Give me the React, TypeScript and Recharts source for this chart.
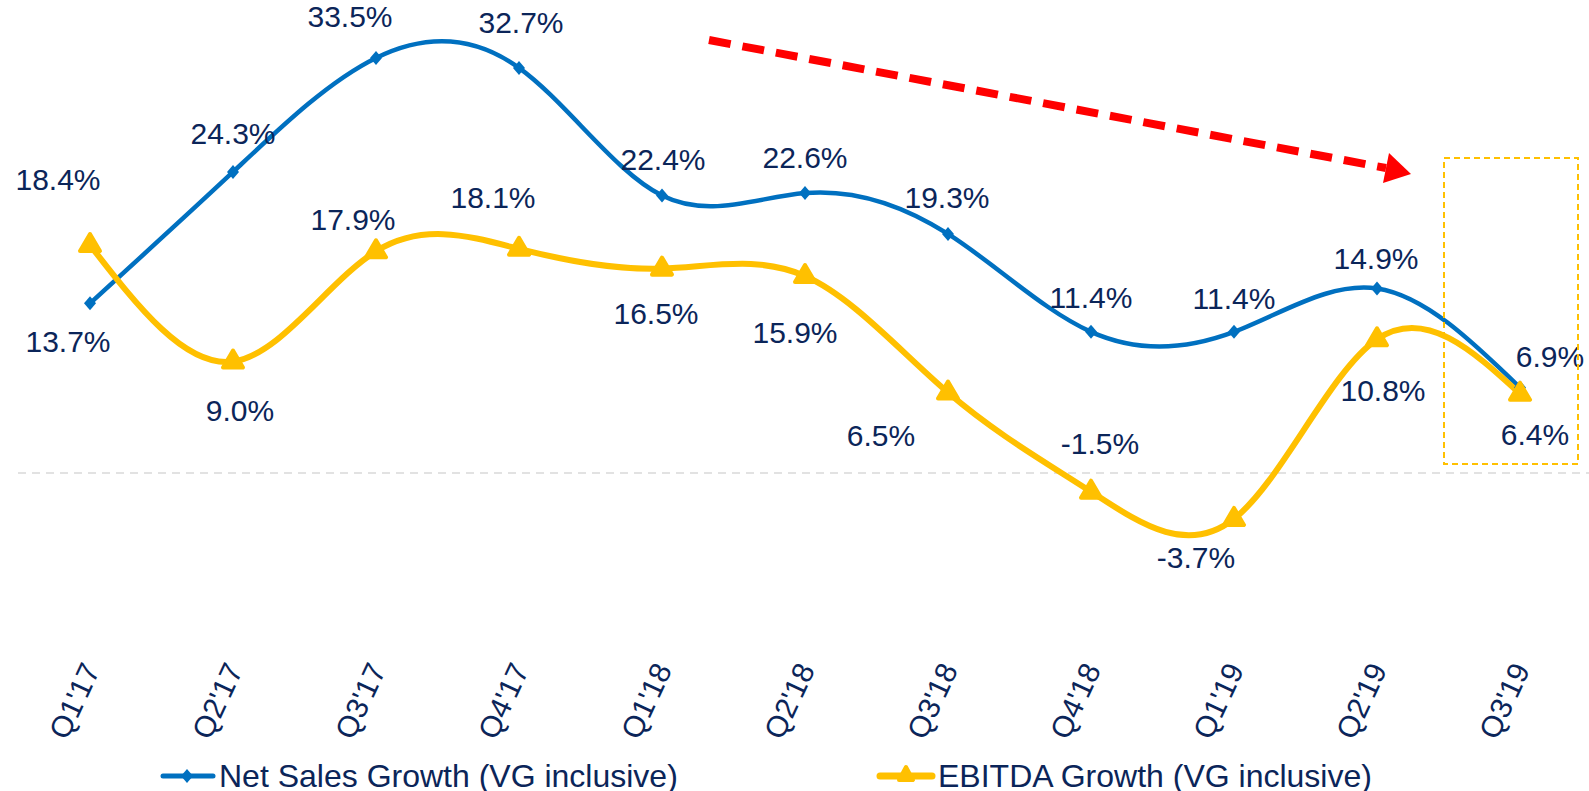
import React from 'react';
import {
  LineChart,
  Line,
  XAxis,
  YAxis,
  Legend,
  LabelList,
  ReferenceLine,
} from 'recharts';

// quarters and growth rates (%)
const quarters = ["Q1'17", "Q2'17", "Q3'17", "Q4'17", "Q1'18", "Q2'18", "Q3'18", "Q4'18", "Q1'19", "Q2'19", "Q3'19"];
const netSalesGrowth = [13.7, 24.3, 33.5, 32.7, 22.4, 22.6, 19.3, 11.4, 11.4, 14.9, 6.9];
const ebitdaGrowth = [18.4, 9.0, 17.9, 18.1, 16.5, 15.9, 6.5, -1.5, -3.7, 10.8, 6.4];

const SERIES_NAMES = ['Net Sales Growth (VG inclusive)', 'EBITDA Growth (VG inclusive)'];

// label offsets relative to each point (dx, dy)
const netLabelOffsets: [number, number][] = [
  [-22, 38], [0, -38], [-26, -41], [2, -45], [1, -36], [0, -36],
  [-1, -36], [0, -34], [0, -33], [-1, -30], [30, -31],
];
const ebitdaLabelOffsets: [number, number][] = [
  [-32, -66], [7, 49], [-23, -32], [-26, -51], [-6, 45], [-10, 56],
  [-67, 43], [9, -48], [-38, 39], [6, 51], [15, 41],
];

const BLUE = '#0070C0';
const YELLOW = '#FFC000';
const TEXT = '#0B2559';
const FONT = '"Liberation Sans", Arial, sans-serif';

const W = 1589;
const H = 791;

const chartData = quarters.map((q, i) => ({
  q,
  net: netSalesGrowth[i],
  ebitda: ebitdaGrowth[i],
}));

const Diamond = (props: any) => {
  const { cx, cy, index } = props;
  if (cx == null || cy == null) return <g key={`d-${index}`} />;
  return (
    <path
      key={`d-${index}`}
      d={`M${cx},${cy - 7} L${cx + 6},${cy} L${cx},${cy + 7} L${cx - 6},${cy} Z`}
      fill={BLUE}
    />
  );
};

const Triangle = (props: any) => {
  const { cx, cy, index } = props;
  if (cx == null || cy == null) return <g key={`t-${index}`} />;
  return (
    <path
      key={`t-${index}`}
      d={`M${cx},${cy - 11} L${cx + 10},${cy + 6} L${cx - 10},${cy + 6} Z`}
      fill={YELLOW}
      stroke={YELLOW}
      strokeWidth={4}
      strokeLinejoin="round"
    />
  );
};

const makeLabel = (offsets: [number, number][]) => (props: any) => {
  const { x, y, value, index } = props;
  const [dx, dy] = offsets[index] ?? [0, -30];
  return (
    <text
      x={x + dx}
      y={y + dy}
      textAnchor="middle"
      dominantBaseline="central"
      fill={TEXT}
      fontSize={30}
      fontFamily={FONT}
    >
      {`${Number(value).toFixed(1)}%`}
    </text>
  );
};

const QuarterTick = (props: any) => {
  const { x, y, payload } = props;
  return (
    <text
      transform={`translate(${x + 1},${y + 68}) rotate(-65)`}
      textAnchor="end"
      dy="0.35em"
      fill={TEXT}
      fontSize={30}
      fontFamily={FONT}
    >
      {payload.value}
    </text>
  );
};

const LegendContent = () => (
  <div style={{ position: 'relative', width: W, height: 36, fontFamily: FONT, fontSize: 32, color: TEXT }}>
    <div style={{ position: 'absolute', left: 160, top: 3, height: 36, display: 'flex', alignItems: 'center' }}>
      <svg width={56} height={20}>
        <line x1={3} y1={10} x2={53} y2={10} stroke={BLUE} strokeWidth={5} strokeLinecap="round" />
        <path d="M27,3 L33,10 L27,17 L21,10 Z" fill={BLUE} />
      </svg>
      <span style={{ marginLeft: 3, whiteSpace: 'nowrap' }}>{SERIES_NAMES[0]}</span>
    </div>
    <div style={{ position: 'absolute', left: 876, top: 3, height: 36, display: 'flex', alignItems: 'center' }}>
      <svg width={60} height={24}>
        <line x1={4} y1={12} x2={56} y2={12} stroke={YELLOW} strokeWidth={7} strokeLinecap="round" />
        <path d="M30,3 L37,16 L23,16 Z" fill={YELLOW} stroke={YELLOW} strokeWidth={4} strokeLinejoin="round" />
      </svg>
      <span style={{ marginLeft: 2, whiteSpace: 'nowrap' }}>{SERIES_NAMES[1]}</span>
    </div>
  </div>
);

export default function App() {
  return (
    <div style={{ position: 'absolute', left: 0, top: 0, width: W, height: H, background: '#fff' }}>
      <LineChart
        width={W}
        height={H}
        data={chartData}
        margin={{ top: 27, right: 0, bottom: 0, left: 18 }}
      >
        <XAxis
          dataKey="q"
          interval={0}
          axisLine={false}
          tickLine={false}
          tickSize={0}
          tickMargin={0}
          height={158}
          padding={{ left: 72, right: 69 }}
          tick={<QuarterTick />}
        />
        <YAxis hide domain={[-10, 36]} />
        <ReferenceLine y={0} stroke="#D9D9D9" strokeWidth={1.5} strokeDasharray="8 6" />
        <Line
          type="natural"
          dataKey="net"
          name={SERIES_NAMES[0]}
          stroke={BLUE}
          strokeWidth={4.5}
          dot={<Diamond />}
          isAnimationActive={false}
        >
          <LabelList dataKey="net" content={makeLabel(netLabelOffsets)} />
        </Line>
        <Line
          type="natural"
          dataKey="ebitda"
          name={SERIES_NAMES[1]}
          stroke={YELLOW}
          strokeWidth={6}
          dot={<Triangle />}
          isAnimationActive={false}
        >
          <LabelList dataKey="ebitda" content={makeLabel(ebitdaLabelOffsets)} />
        </Line>
        <Legend
          verticalAlign="bottom"
          height={36}
          wrapperStyle={{ left: 0, width: W }}
          content={<LegendContent />}
        />
      </LineChart>
      {/* annotations: downward trend arrow and highlight box */}
      <svg
        width={W}
        height={H}
        style={{ position: 'absolute', left: 0, top: 0, pointerEvents: 'none' }}
      >
        <line
          x1={709}
          y1={40}
          x2={1386}
          y2={168}
          stroke="#FF0000"
          strokeWidth={8}
          strokeDasharray="22 12"
        />
        <path d="M1411,174 L1383,183 L1389,153 Z" fill="#FF0000" />
        <rect
          x={1444}
          y={158}
          width={134}
          height={306}
          fill="none"
          stroke={YELLOW}
          strokeWidth={2}
          strokeDasharray="6 4"
        />
      </svg>
    </div>
  );
}
